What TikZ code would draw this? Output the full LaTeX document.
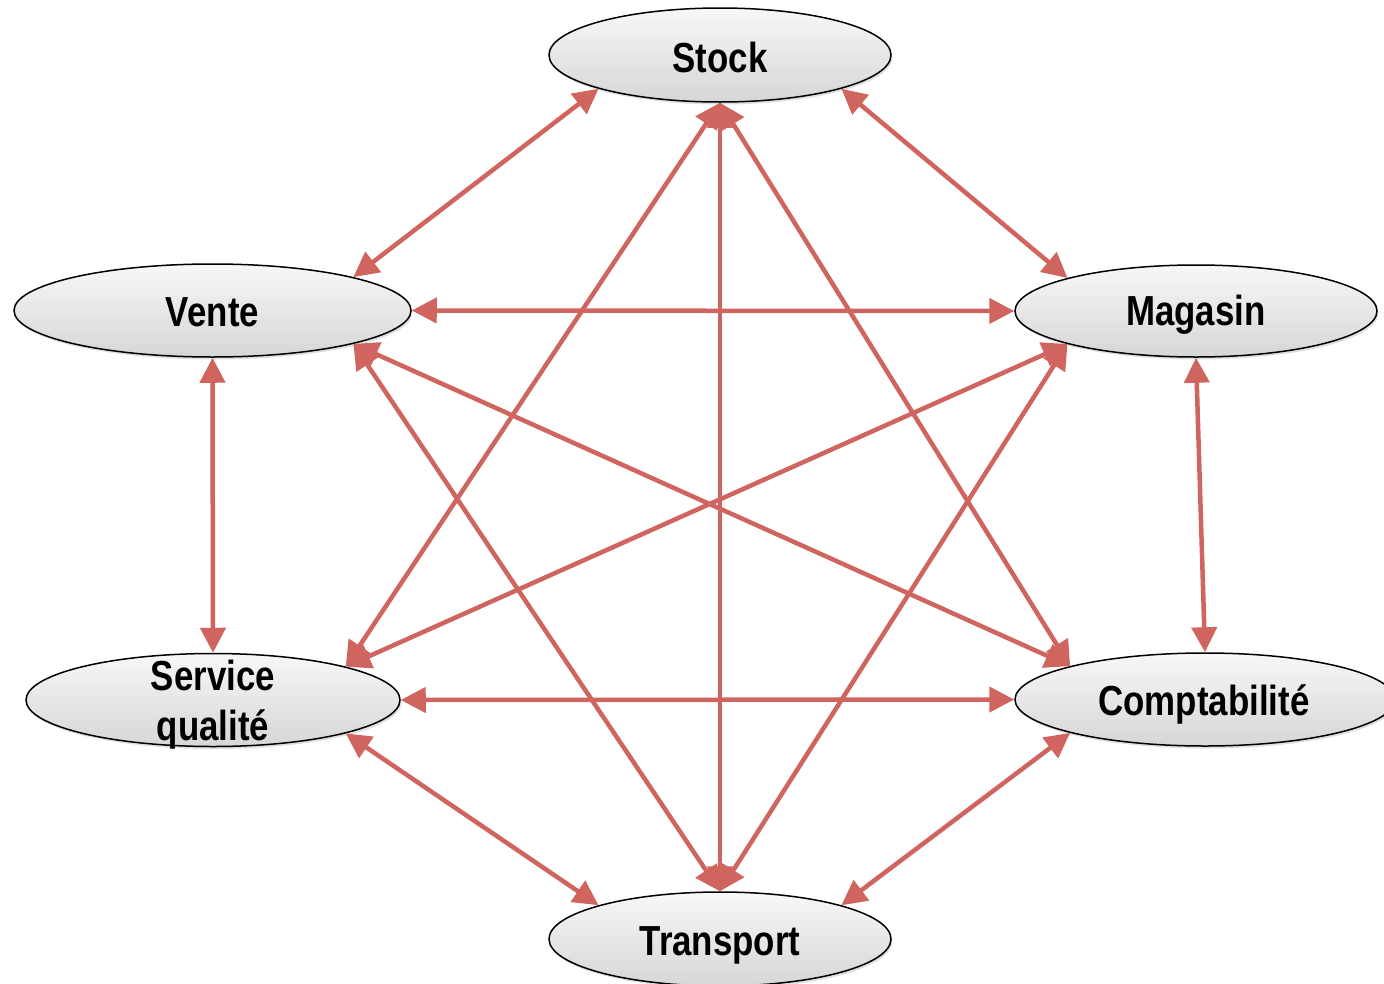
\documentclass[tikz,border=0pt]{standalone}
\usepackage{fontspec}
\newfontfamily\labelfont[FakeStretch=0.83]{Liberation Sans}
\usetikzlibrary{arrows.meta,shapes.geometric,shadows}
\definecolor{linkred}{RGB}{208,100,94}
\begin{document}
\begin{tikzpicture}[x=1pt,y=-1pt,
  entity/.style={ellipse, draw=black, line width=1.5pt, inner sep=0pt,
    top color=gray!6, bottom color=gray!32,
    drop shadow={shadow xshift=1.5pt,shadow yshift=-2.5pt,opacity=0.25}},
  txt/.style={font=\labelfont\bfseries\fontsize{42}{50}\selectfont, align=center, inner sep=0pt},
  link/.style={draw=linkred, line width=4.5pt,
    {Triangle[length=25pt,width=25pt]}-{Triangle[length=25pt,width=25pt]}}]
\useasboundingbox (0,0) rectangle (1384,983);

% the six departments
\node[entity, minimum width=342pt, minimum height=94pt, label={[txt,yshift=-2pt]center:Stock}] (stock) at (720,55) {};
\node[entity, minimum width=397pt, minimum height=93pt, label={[txt,yshift=-2pt]center:Vente}] (vente) at (212.5,310.5) {};
\node[entity, minimum width=362pt, minimum height=92pt, label={[txt,yshift=-4pt]center:Magasin}] (magasin) at (1196,311) {};
\node[entity, minimum width=374pt, minimum height=93pt, label={[txt,yshift=-5pt]center:Service\\qualité}] (service) at (213,700) {};
\node[entity, minimum width=380pt, minimum height=93pt, label={[txt,xshift=-1pt,yshift=-5pt]center:Comptabilité}] (compta) at (1205,699.5) {};
\node[entity, minimum width=342pt, minimum height=94pt, label={[txt,yshift=-6pt]center:Transport}] (transport) at (720,939) {};

% every pair is linked both ways
\draw[link] (stock.south west) -- (vente.north east);
\draw[link] (stock.south east) -- (magasin.north west);
\draw[link] (stock.south) -- (service.north east);
\draw[link] (stock.south) -- (transport.north);
\draw[link] (stock.south) -- (compta.north west);
\draw[link] (vente.east) -- (magasin.west);
\draw[link] (vente.south) -- (service.north);
\draw[link] (vente.south east) -- (compta.north west);
\draw[link] (vente.south east) -- (transport.north);
\draw[link] (magasin.south west) -- (service.north east);
\draw[link] (magasin.south west) -- (transport.north);
\draw[link] (magasin.south) -- (compta.north);
\draw[link] (service.east) -- (compta.west);
\draw[link] (service.south east) -- (transport.north west);
\draw[link] (compta.south west) -- (transport.north east);
\end{tikzpicture}
\end{document}
